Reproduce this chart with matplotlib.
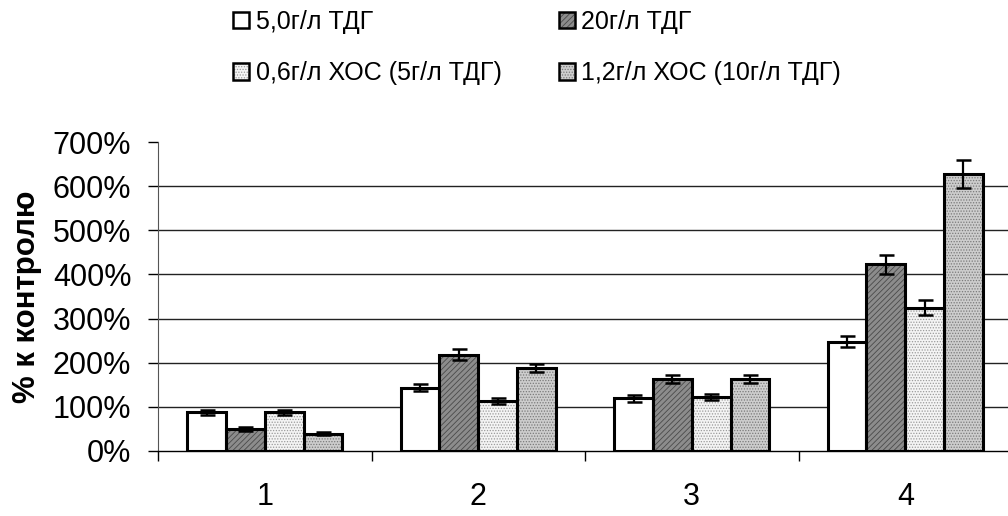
import matplotlib.pyplot as plt
from matplotlib.patches import Patch
from matplotlib.ticker import FuncFormatter, FixedLocator
import numpy as np

plt.rcParams['font.family'] = ['Liberation Sans', 'DejaVu Sans']
plt.rcParams['hatch.linewidth'] = 0.6

groups = ['1', '2', '3', '4']
series_labels = ['5,0г/л ТДГ', '20г/л ТДГ', '0,6г/л ХОС (5г/л ТДГ)', '1,2г/л ХОС (10г/л ТДГ)']

# % к контролю, with error bar half-widths
vals_5tdg = [88, 143, 119, 248]
vals_20tdg = [50, 218, 164, 423]
vals_06xoc = [88, 113, 122, 324]
vals_12xoc = [39, 188, 163, 628]
err_5tdg = [6, 8, 7, 13]
err_20tdg = [4, 12, 9, 22]
err_06xoc = [6, 6, 6, 17]
err_12xoc = [3, 10, 9, 32]

values = [vals_5tdg, vals_20tdg, vals_06xoc, vals_12xoc]
errors = [err_5tdg, err_20tdg, err_06xoc, err_12xoc]

# face colour, hatch, hatch colour
styles = [
    ('white', '', 'white'),
    ('#8c8c8c', '//////', '#4a4a4a'),
    ('#f4f4f4', '......', '#9a9a9a'),
    ('#cdcdcd', '......', '#7a7a7a'),
]

fig = plt.figure(figsize=(10.08, 5.16), dpi=100)
ax = fig.add_axes([158 / 1008, 65 / 516, 854 / 1008, 309 / 516])

x = np.arange(len(groups))
width = 0.1815
offsets = (np.arange(4) - 1.5) * width

for yv in range(100, 700, 100):
    ax.axhline(yv, color='#222222', linewidth=1.0, zorder=0)

handles = []
for i in range(4):
    face, hatch, hcol = styles[i]
    # hatched fill first, black outline on top
    ax.bar(x + offsets[i], values[i], width, color=face, hatch=hatch,
           edgecolor=hcol, linewidth=0, zorder=2)
    ax.bar(x + offsets[i], values[i], width, facecolor='none',
           edgecolor='black', linewidth=2.2, zorder=3)
    ax.errorbar(x + offsets[i], values[i], yerr=errors[i], fmt='none',
                ecolor='black', elinewidth=1.6, capsize=5.4, capthick=1.8, zorder=4)
    h_fill = Patch(facecolor=face, hatch=hatch, edgecolor=hcol, linewidth=0)
    h_edge = Patch(facecolor='none', edgecolor='black', linewidth=1.8)
    handles.append((h_fill, h_edge))

ax.set_xlim(-0.5, 3.5)
ax.set_ylim(0, 700)
ax.set_yticks(range(0, 800, 100))
ax.yaxis.set_major_formatter(FuncFormatter(lambda v, p: f'{v:.0f}%'))
ax.tick_params(axis='y', direction='out', length=7.2, width=1.0, pad=12, labelsize=22)

# category borders as ticks, labels in the middle
ax.xaxis.set_major_locator(FixedLocator([-0.5, 0.5, 1.5, 2.5, 3.5]))
ax.xaxis.set_minor_locator(FixedLocator(x))
ax.set_xticklabels([])
ax.set_xticklabels(groups, minor=True)
ax.tick_params(axis='x', which='major', direction='out', length=7.2, width=1.0)
ax.tick_params(axis='x', which='minor', length=0, pad=22, labelsize=22)

for s in ['top', 'right']:
    ax.spines[s].set_visible(False)
ax.spines['left'].set_color('#555555')
ax.spines['bottom'].set_color('black')
ax.spines['bottom'].set_linewidth(1.0)

fig.text(27 / 1008, 0.425, '% к контролю', rotation=90, fontsize=22.5,
         fontweight='bold', ha='center', va='center')

order = [0, 2, 1, 3]
fig.legend([handles[i] for i in order], [series_labels[i] for i in order],
           ncol=2, loc='upper left', bbox_to_anchor=(218 / 1008, 1.01),
           frameon=False, fontsize=18, handlelength=0.65, handleheight=0.65,
           handletextpad=0.25, columnspacing=2.3, labelspacing=1.1,
           borderaxespad=0.2)

plt.savefig('out.png', dpi=100)
